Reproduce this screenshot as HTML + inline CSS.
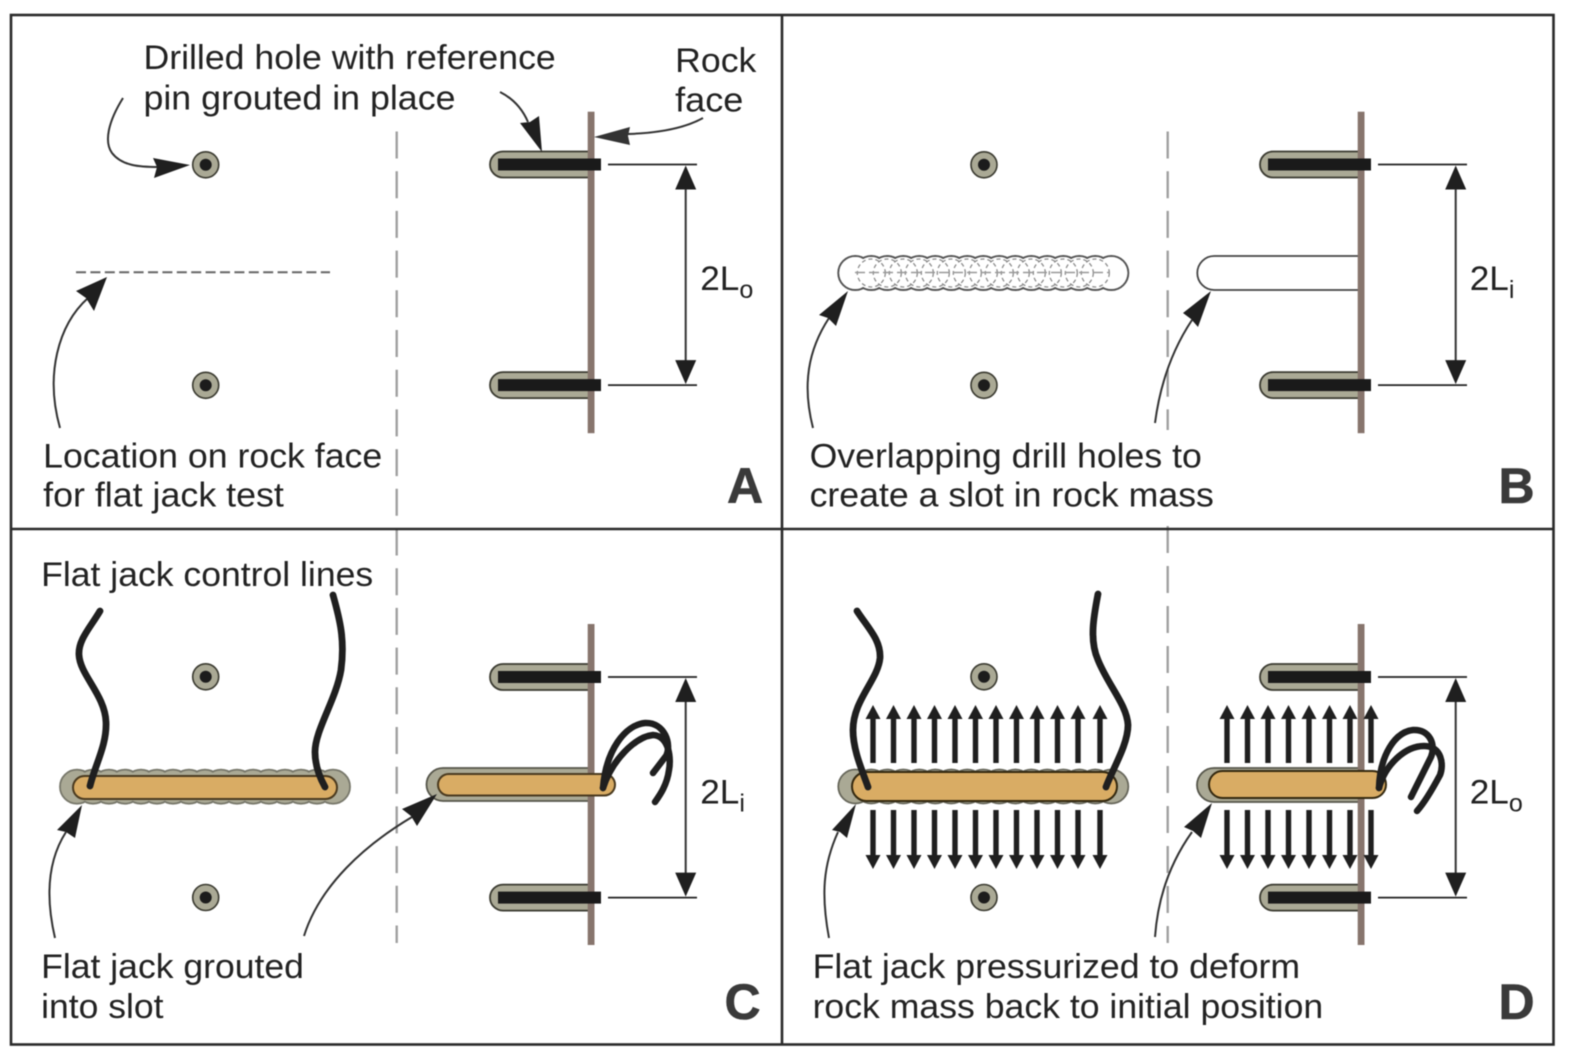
<!DOCTYPE html>
<html>
<head>
<meta charset="utf-8">
<style>
html,body{margin:0;padding:0;background:#fff;}
svg{display:block;}
text{font-family:"Liberation Sans",sans-serif;fill:#222;font-size:34px;}
text.big{font-weight:bold;font-size:50px;fill:#3a3a3a;stroke:#3a3a3a;stroke-width:0.6px;}
text.sub{font-size:25px;}
</style>
</head>
<body>
<svg width="1573" height="1056" viewBox="0 0 1573 1056" xmlns="http://www.w3.org/2000/svg">
<defs>
  <g id="pin">
    <circle r="13" fill="#aaa995" stroke="#3a3a30" stroke-width="1.6"/>
    <circle r="6" fill="#1c1c1c"/>
  </g>
  <g id="c17">
    <circle cx="0" r="17"/><circle cx="16" r="17"/><circle cx="32" r="17"/><circle cx="48" r="17"/><circle cx="64" r="17"/><circle cx="80" r="17"/><circle cx="96" r="17"/><circle cx="112" r="17"/><circle cx="128" r="17"/><circle cx="144" r="17"/><circle cx="160" r="17"/><circle cx="176" r="17"/><circle cx="192" r="17"/><circle cx="208" r="17"/><circle cx="224" r="17"/><circle cx="240" r="17"/><circle cx="256" r="17"/>
  </g>
  <g id="c17b">
    <circle cx="0" r="16"/><circle cx="16" r="16"/><circle cx="32" r="16"/><circle cx="48" r="16"/><circle cx="64" r="16"/><circle cx="80" r="16"/><circle cx="96" r="16"/><circle cx="112" r="16"/><circle cx="128" r="16"/><circle cx="144" r="16"/><circle cx="160" r="16"/><circle cx="176" r="16"/><circle cx="192" r="16"/><circle cx="208" r="16"/><circle cx="224" r="16"/><circle cx="240" r="16"/><circle cx="256" r="16"/>
  </g>
  <g id="c16d">
    <circle cx="16" r="14"/><circle cx="32" r="14"/><circle cx="48" r="14"/><circle cx="64" r="14"/><circle cx="80" r="14"/><circle cx="96" r="14"/><circle cx="112" r="14"/><circle cx="128" r="14"/><circle cx="144" r="14"/><circle cx="160" r="14"/><circle cx="176" r="14"/><circle cx="192" r="14"/><circle cx="208" r="14"/><circle cx="224" r="14"/><circle cx="240" r="14"/>
  </g>
  <path id="up" d="M0 705L7.500 719H2.700V763H-2.700V719H-7.500Z" fill="#1f1f1f"/>
  <path id="down" d="M0 869L7.500 855H2.700V810H-2.700V855H-7.500Z" fill="#1f1f1f"/>
  <path id="hole" d="M589 -13H503a13 13 0 0 0 0 26H589" fill="#aaa995" stroke="#3a3a30" stroke-width="1.800"/>
  <rect id="rod" x="498" y="-6" width="103" height="12" fill="#1a1a1a"/>
  <g id="dim">
    <path d="M608 0H697M608 220.600H697" stroke="#222" stroke-width="1.800" fill="none"/>
    <path d="M685.700 14V206" stroke="#333" stroke-width="2" fill="none"/>
    <path d="M685.700 1L675.200 25H696.200ZM685.700 219.600L675.200 195.600H696.200Z" fill="#1f1f1f"/>
  </g>
</defs>

<g style="filter:blur(0.5px)">
<rect width="1573" height="1056" fill="#fff"/>

<!-- dashed divider lines -->
<path d="M396.700 131.500V943" stroke="#a0a0a0" stroke-width="2.400" stroke-dasharray="27 12.700" fill="none"/>
<path d="M1167.700 131.500V430" stroke="#a0a0a0" stroke-width="2.400" stroke-dasharray="27 12.700" fill="none"/>
<path d="M1167.700 526V943" stroke="#a0a0a0" stroke-width="2.400" stroke-dasharray="27 13" fill="none"/>

<!-- Panel A -->
<use href="#pin" x="205.700" y="164.800"/>
<use href="#pin" x="205.700" y="385.300"/>
<path d="M76 272.300H330" stroke="#666" stroke-width="2" stroke-dasharray="10 4.400" fill="none"/>
<use href="#hole" y="164.500"/><use href="#hole" y="385.100"/>
<rect x="587.700" y="111.700" width="6.800" height="321.500" fill="#87756d"/>
<use href="#rod" y="164.500"/><use href="#rod" y="385.100"/>
<use href="#dim" y="164.500"/>
<path d="M123 98C108 122 104 142 112 153C122 166 140 167 158 167" stroke="#333" stroke-width="2" fill="none"/>
<path d="M190 165L153 158L157 167L154 178Z" fill="#1f1f1f"/>
<path d="M500 92C512 98 522 108 528 122" stroke="#333" stroke-width="2" fill="none"/>
<path d="M542 152L520 123L530 122L539 116Z" fill="#1f1f1f"/>
<path d="M703 118C685 128 660 133 628 134" stroke="#333" stroke-width="2" fill="none"/>
<path d="M594 137L630 127L628 136L630 145Z" fill="#333"/>
<path d="M60 428C45 375 58 325 88 298" stroke="#333" stroke-width="2" fill="none"/>
<path d="M107 277L76 291L86 298L94 311Z" fill="#1f1f1f"/>

<!-- Panel B -->
<use href="#pin" x="984" y="164.800"/>
<use href="#pin" x="984" y="385.300"/>
<use href="#c17" x="855.300" y="273" fill="#fff" stroke="#555" stroke-width="2"/>
<use href="#c17b" x="855.300" y="273" fill="#fff"/>
<use href="#c16d" x="855.300" y="273" fill="none" stroke="#8c8c8c" stroke-width="1.300" stroke-dasharray="4 3"/>
<path d="M855 272.500H1110" stroke="#999" stroke-width="1.600" stroke-dasharray="10 4" fill="none"/>
<path d="M1361 256H1214.300a17 17 0 0 0 0 34H1361" fill="#fff" stroke="#444" stroke-width="1.800"/>
<g transform="translate(770 0)">
  <use href="#hole" y="164.500"/><use href="#hole" y="385.100"/>
  <rect x="587.700" y="111.700" width="6.800" height="321.500" fill="#87756d"/>
  <use href="#rod" y="164.500"/><use href="#rod" y="385.100"/>
  <use href="#dim" y="164.500"/>
</g>
<path d="M813 428C802 385 808 350 829 318" stroke="#333" stroke-width="2" fill="none"/>
<path d="M848 291L819 315L828 318L836 326Z" fill="#1f1f1f"/>
<path d="M1155 423C1160 385 1172 350 1192 320" stroke="#333" stroke-width="2" fill="none"/>
<path d="M1211 291L1183 313L1191 319L1198 327Z" fill="#1f1f1f"/>

<!-- Panel C -->
<use href="#pin" x="205.700" y="676.800"/>
<use href="#pin" x="205.700" y="897.500"/>
<use href="#c17" x="77" y="786.700" fill="#aaa995" stroke="#77776a" stroke-width="1.800"/>
<use href="#c17b" x="77" y="786.700" fill="#aaa995"/>
<rect x="73" y="776" width="264" height="23" rx="11.500" fill="#d9ac64" stroke="#4a3a1f" stroke-width="2"/>
<path d="M100 611C90 628 78 640 79 655C80 675 105 695 106 722C107 745 95 765 90 786" stroke="#1f1f1f" stroke-width="6.800" stroke-linecap="round" fill="none"/>
<path d="M333 595C340 620 345 640 341 670C336 700 315 730 315 752C315 765 320 778 325 787" stroke="#1f1f1f" stroke-width="6.800" stroke-linecap="round" fill="none"/>
<use href="#hole" y="677"/><use href="#hole" y="897.600"/>
<path d="M589 768H443a16.500 16.500 0 0 0 0 33H589" fill="#aaa995" stroke="#55554a" stroke-width="1.800"/>
<rect x="587.700" y="624" width="6.800" height="321" fill="#87756d"/>
<use href="#rod" y="677"/><use href="#rod" y="897.600"/>
<use href="#dim" y="677"/>
<rect x="438" y="774" width="177" height="21.500" rx="10.700" fill="#d9ac64" stroke="#4a3a1f" stroke-width="2"/>
<path d="M603 788C606 750 625 725 645 723C665 722 672 745 666 756L653 773" stroke="#1f1f1f" stroke-width="6.500" stroke-linecap="round" fill="none"/>
<path d="M603 788C612 760 635 737 653 735C670 736 671 760 669 770C667 785 660 795 655 802" stroke="#1f1f1f" stroke-width="6.500" stroke-linecap="round" fill="none"/>
<path d="M55 938C45 895 48 860 66 832" stroke="#333" stroke-width="2" fill="none"/>
<path d="M82 805L57 830L66 832L75 838Z" fill="#1f1f1f"/>
<path d="M304 936C320 885 365 845 412 817" stroke="#333" stroke-width="2" fill="none"/>
<path d="M437 794L402 809L411 816L417 826Z" fill="#1f1f1f"/>

<!-- Panel D -->
<use href="#pin" x="984" y="676.800"/>
<use href="#pin" x="984" y="897.500"/>
<use href="#up" x="873"/><use href="#up" x="893.500"/><use href="#up" x="914"/><use href="#up" x="934.500"/><use href="#up" x="955"/><use href="#up" x="975.500"/><use href="#up" x="996"/><use href="#up" x="1016.500"/><use href="#up" x="1037"/><use href="#up" x="1057.500"/><use href="#up" x="1078"/><use href="#up" x="1100"/>
<use href="#down" x="873"/><use href="#down" x="893.500"/><use href="#down" x="914"/><use href="#down" x="934.500"/><use href="#down" x="955"/><use href="#down" x="975.500"/><use href="#down" x="996"/><use href="#down" x="1016.500"/><use href="#down" x="1037"/><use href="#down" x="1057.500"/><use href="#down" x="1078"/><use href="#down" x="1100"/>
<use href="#c17" x="855.300" y="786.500" fill="#aaa995" stroke="#66665a" stroke-width="1.800"/>
<use href="#c17b" x="855.300" y="786.500" fill="#aaa995"/>
<rect x="852" y="772" width="265" height="29" rx="14.500" fill="#d9ac64" stroke="#33280f" stroke-width="2"/>
<path d="M857 611C868 628 881 640 880 658C878 680 853 700 853 730C853 750 862 770 868 787" stroke="#1f1f1f" stroke-width="6.800" stroke-linecap="round" fill="none"/>
<path d="M1098 594C1094 615 1089 640 1098 660C1108 685 1127 705 1128 725C1128 745 1112 770 1106 787" stroke="#1f1f1f" stroke-width="6.800" stroke-linecap="round" fill="none"/>

<g transform="translate(770 0)">
  <use href="#hole" y="677"/><use href="#hole" y="897.600"/>
</g>
<path d="M1361 768H1214a17 17 0 0 0 0 34H1361" fill="#aaa995" stroke="#55554a" stroke-width="1.800"/>
<g transform="translate(770 0)">
  <rect x="587.700" y="624" width="6.800" height="321" fill="#87756d"/>
  <use href="#rod" y="677"/><use href="#rod" y="897.600"/>
  <use href="#dim" y="677"/>
</g>
<use href="#up" x="1227"/><use href="#up" x="1247.500"/><use href="#up" x="1268"/><use href="#up" x="1288.500"/><use href="#up" x="1309"/><use href="#up" x="1329.500"/><use href="#up" x="1350"/><use href="#up" x="1371"/>
<use href="#down" x="1227"/><use href="#down" x="1247.500"/><use href="#down" x="1268"/><use href="#down" x="1288.500"/><use href="#down" x="1309"/><use href="#down" x="1329.500"/><use href="#down" x="1350"/><use href="#down" x="1371"/>
<rect x="1209" y="771" width="177" height="27" rx="13.500" fill="#d9ac64" stroke="#33280f" stroke-width="2"/>
<path d="M1379 788C1380 755 1395 732 1413 730C1430 729 1436 745 1431 757L1411 797" stroke="#1f1f1f" stroke-width="6.500" stroke-linecap="round" fill="none"/>
<path d="M1379 788C1385 765 1405 746 1424 746C1442 746 1444 765 1440 775C1432 790 1425 802 1417 811" stroke="#1f1f1f" stroke-width="6.500" stroke-linecap="round" fill="none"/>
<path d="M829 938C821 895 823 865 838 832" stroke="#333" stroke-width="2" fill="none"/>
<path d="M856 804L832 830L840 832L847 838Z" fill="#1f1f1f"/>
<path d="M1155 937C1158 895 1172 860 1192 832" stroke="#333" stroke-width="2" fill="none"/>
<path d="M1212 803L1184 827L1193 831L1201 838Z" fill="#1f1f1f"/>

<!-- Frame -->
<rect x="11" y="15" width="1542.500" height="1029.500" fill="none" stroke="#2a2a2a" stroke-width="2.600"/>
<path d="M782 15V1044.500M11 529H1553.500" stroke="#2a2a2a" stroke-width="2.600" fill="none"/>

<!-- Text -->
<g transform="scale(1.0032)">
<text x="143" y="69" textLength="411" lengthAdjust="spacingAndGlyphs">Drilled hole with reference</text>
<text x="143" y="109" textLength="311" lengthAdjust="spacingAndGlyphs">pin grouted in place</text>
<text x="673" y="72" textLength="81" lengthAdjust="spacingAndGlyphs">Rock</text>
<text x="673" y="111" textLength="68" lengthAdjust="spacingAndGlyphs">face</text>
<text x="698" y="289" textLength="39" lengthAdjust="spacingAndGlyphs">2L</text><text class="sub" x="737" y="297">o</text>
<text x="43" y="466" textLength="338" lengthAdjust="spacingAndGlyphs">Location on rock face</text>
<text x="43" y="505" textLength="240" lengthAdjust="spacingAndGlyphs">for flat jack test</text>

<text x="1465" y="289" textLength="39" lengthAdjust="spacingAndGlyphs">2L</text><text class="sub" x="1504" y="297">i</text>
<text x="807" y="466" textLength="391" lengthAdjust="spacingAndGlyphs">Overlapping drill holes to</text>
<text x="807" y="505" textLength="403" lengthAdjust="spacingAndGlyphs">create a slot in rock mass</text>

<text x="41" y="584" textLength="331" lengthAdjust="spacingAndGlyphs">Flat jack control lines</text>
<text x="698" y="801" textLength="39" lengthAdjust="spacingAndGlyphs">2L</text><text class="sub" x="737" y="809">i</text>
<text x="41" y="975" textLength="262" lengthAdjust="spacingAndGlyphs">Flat jack grouted</text>
<text x="41" y="1015" textLength="122" lengthAdjust="spacingAndGlyphs">into slot</text>

<text x="1465" y="801" textLength="39" lengthAdjust="spacingAndGlyphs">2L</text><text class="sub" x="1504" y="809">o</text>
<text x="810" y="975" textLength="486" lengthAdjust="spacingAndGlyphs">Flat jack pressurized to deform</text>
<text x="810" y="1015" textLength="509" lengthAdjust="spacingAndGlyphs">rock mass back to initial position</text>
</g>
<text class="big" x="727" y="503">A</text>
<text class="big" x="1498.500" y="503">B</text>
<text class="big" x="724.500" y="1019">C</text>
<text class="big" x="1498.500" y="1019">D</text>
</g>
</svg>
</body>
</html>
